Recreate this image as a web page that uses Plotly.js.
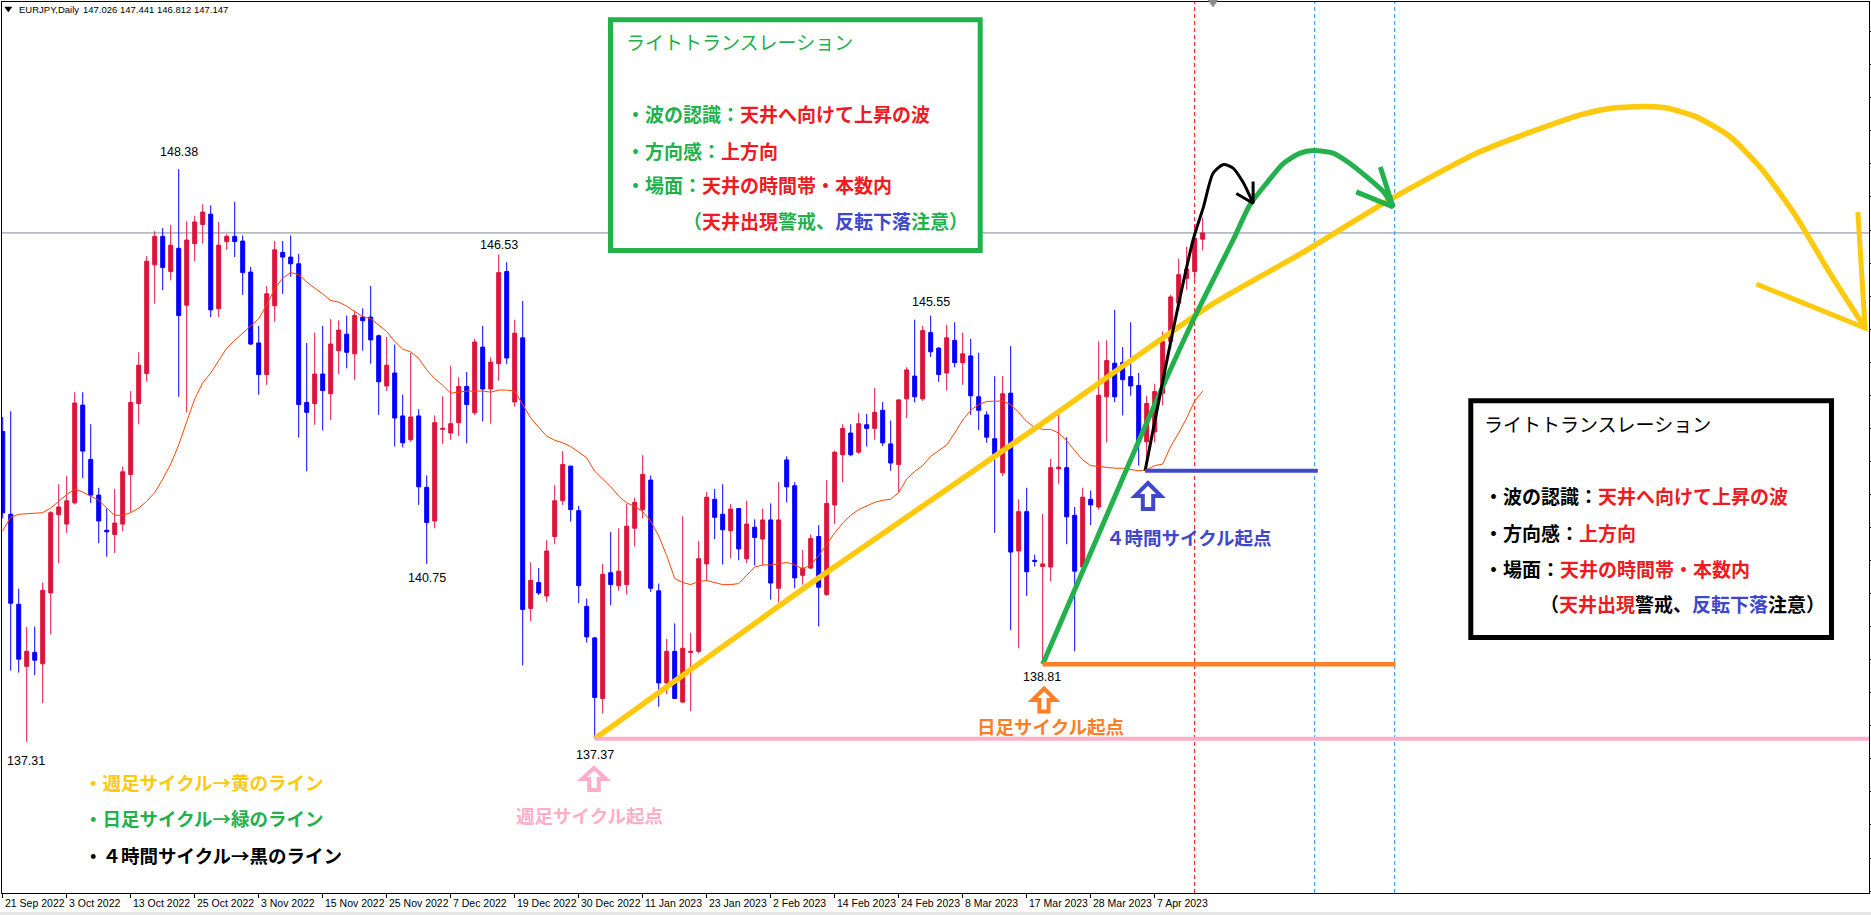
<!DOCTYPE html>
<html><head><meta charset="utf-8">
<script src="https://cdn.plot.ly/plotly-3.0.1.min.js"></script>
<style>html,body{margin:0;padding:0;background:#fff;overflow:hidden}#chart{width:1871px;height:915px}</style>
</head><body><div id="chart"></div>
<script>
// ---------- DATA ----------
const tickBars = [0,8,16,24,32,40,48,56,64,72,80,88,96,104,112,120,128,136,144];
const tickDates = ['21 Sep 2022','3 Oct 2022','13 Oct 2022','25 Oct 2022','3 Nov 2022','15 Nov 2022','25 Nov 2022','7 Dec 2022','19 Dec 2022','30 Dec 2022','11 Jan 2023','23 Jan 2023','2 Feb 2023','14 Feb 2023','24 Feb 2023','8 Mar 2023','17 Mar 2023','28 Mar 2023','7 Apr 2023'];

const openP = [143.31,141.71,139.97,138.77,139.04,138.82,140.19,141.70,141.52,141.93,
143.82,142.77,142.08,141.40,141.32,141.52,142.48,143.85,144.43,146.53,
147.08,146.40,146.85,145.75,146.94,147.31,147.51,145.68,146.98,147.08,
146.99,146.39,145.02,144.41,145.74,146.77,146.68,146.55,143.87,143.85,
144.42,144.04,144.87,145.19,144.81,145.52,145.52,145.16,144.19,144.44,
143.61,143.15,143.61,142.23,141.58,143.35,143.28,143.48,144.18,143.67,
144.94,144.13,144.62,146.40,143.88,145.12,139.89,140.39,140.13,141.28,
141.97,142.64,141.78,139.93,139.32,138.15,140.58,140.33,140.35,141.44,
141.80,142.37,140.23,138.45,139.06,138.08,139.04,139.06,140.75,142.00,
141.71,141.39,141.82,140.85,141.46,141.23,141.60,140.28,142.76,142.26,
140.53,140.67,141.28,140.16,141.89,142.86,143.28,142.91,143.44,143.37,
143.72,143.07,142.67,143.94,144.38,143.94,145.22,144.92,144.44,145.07,
144.64,144.77,143.98,143.63,143.17,142.51,144.05,141.00,141.76,140.82,
140.70,140.69,142.59,142.61,141.69,140.69,142.00,141.85,143.98,144.63,
144.64,144.37,144.20,143.11,143.30,144.05,145.05,145.79,146.27,146.40,
147.026];
const highP = [143.59,143.70,140.27,139.53,139.54,140.39,141.77,142.29,142.45,144.07,
144.07,143.45,142.22,141.82,142.20,142.63,144.09,144.84,146.70,147.18,
147.24,147.30,148.38,147.37,147.48,147.70,147.68,147.36,147.12,147.75,
147.10,146.49,145.35,146.12,146.99,146.99,147.10,146.74,145.02,145.22,
145.35,145.48,145.46,145.55,145.64,145.69,146.12,145.18,145.14,144.99,
144.02,144.83,143.74,142.46,143.62,143.99,144.58,144.36,144.46,145.10,
145.35,144.74,146.73,146.58,145.47,145.83,140.78,140.67,141.21,142.27,
142.93,142.65,141.87,140.08,139.34,140.75,141.37,141.44,141.91,142.03,
142.85,142.46,140.37,139.30,139.60,141.67,139.42,141.19,142.14,142.20,
142.29,141.91,141.83,141.97,141.61,141.82,141.92,142.33,142.83,142.33,
141.02,141.32,141.50,142.37,142.94,143.45,143.45,143.67,143.65,144.15,
143.88,143.52,143.93,144.55,145.47,145.35,145.55,144.94,145.37,145.42,
145.22,145.10,144.83,143.70,144.38,144.38,144.96,142.00,142.22,140.93,
141.72,142.78,143.63,143.20,141.85,142.22,142.17,145.05,145.07,145.66,
144.94,145.42,144.44,144.00,144.23,145.24,145.95,146.65,146.88,147.32,
147.441];
const lowP = [141.63,138.69,138.65,137.31,138.60,138.06,139.39,140.76,141.35,141.90,
142.41,141.93,141.15,140.89,140.96,141.38,141.75,143.45,144.27,145.78,
146.04,146.23,143.98,143.68,146.60,146.94,145.52,145.52,146.82,146.68,
145.95,144.98,144.02,144.21,145.43,145.97,146.30,143.19,142.54,143.44,
143.33,143.53,144.42,144.53,144.31,144.87,144.62,143.63,144.09,143.02,
143.00,143.11,141.89,140.75,141.44,143.07,143.15,143.22,143.08,143.63,
143.50,143.46,144.29,144.61,143.79,138.79,139.64,140.15,140.02,141.13,
141.89,141.57,139.99,139.23,137.37,137.86,139.95,140.23,140.16,141.09,
141.63,140.21,137.99,138.23,138.14,138.06,137.90,139.02,140.43,141.23,
140.74,140.86,140.82,140.76,140.72,140.72,140.06,140.01,141.94,140.28,
140.35,140.65,139.54,140.13,141.52,142.33,142.83,142.88,143.02,143.15,
143.03,142.55,142.14,143.57,143.87,143.90,144.75,144.27,144.10,144.55,
144.21,143.63,143.34,143.09,141.35,142.45,139.47,139.12,140.13,140.70,
138.81,140.41,142.30,141.13,139.06,140.60,141.50,141.80,143.10,143.88,
143.62,144.00,142.65,142.55,143.10,143.81,144.90,145.64,146.05,146.24,
146.812];
const closeP = [141.74,139.99,138.91,139.06,138.89,140.24,141.74,141.85,141.97,143.86,
142.93,142.08,141.58,141.37,141.54,142.53,143.87,144.59,146.60,147.08,
146.48,146.91,145.55,147.01,147.36,147.55,145.66,146.91,147.08,146.98,
146.38,145.00,144.41,145.97,146.82,146.68,146.55,143.83,143.68,144.42,
144.10,145.00,145.27,144.84,145.55,145.45,145.08,144.27,144.59,143.57,
143.09,143.59,142.24,141.55,143.48,143.37,143.46,144.18,143.83,145.04,
144.13,144.65,146.38,144.73,145.21,139.87,140.43,140.19,141.00,141.97,
142.67,141.80,140.33,139.34,138.17,140.55,140.35,140.61,141.48,141.94,
142.48,140.28,138.45,139.06,138.15,139.12,139.06,140.85,142.04,141.65,
141.41,141.81,141.04,141.52,141.26,141.60,140.38,141.60,142.24,140.48,
140.67,141.24,140.30,141.92,142.91,143.37,142.86,143.46,143.37,143.68,
143.09,142.70,143.92,144.50,143.98,145.26,144.85,144.41,145.12,144.64,
144.81,144.00,143.72,143.20,142.87,144.04,140.98,141.76,140.60,140.80,
140.75,142.61,142.62,141.66,140.61,142.04,141.89,144.01,144.68,143.98,
144.31,144.19,143.11,143.85,144.08,145.05,145.91,146.34,146.45,147.04,
147.147];
const maLine = [141.39,141.65,141.71,141.72,141.73,141.74,141.83,141.96,142.09,142.19,
142.14,142.06,141.98,141.83,141.69,141.69,141.74,141.83,141.96,142.13,
142.39,142.68,143.05,143.50,143.94,144.25,144.44,144.68,144.92,145.07,
145.21,145.36,145.49,145.75,146.07,146.27,146.38,146.34,146.20,146.08,
145.97,145.84,145.81,145.73,145.63,145.53,145.49,145.36,145.24,145.05,
144.90,144.85,144.72,144.50,144.33,144.20,144.05,144.07,144.09,144.09,
144.09,144.07,144.11,144.11,144.09,143.83,143.57,143.39,143.22,143.14,
143.09,143.02,142.91,142.80,142.54,142.39,142.24,142.06,141.93,141.86,
141.76,141.58,141.29,140.91,140.47,140.39,140.35,140.41,140.43,140.39,
140.35,140.35,140.37,140.53,140.69,140.73,140.73,140.75,140.78,140.73,
140.65,140.73,140.91,141.13,141.35,141.54,141.69,141.80,141.87,141.94,
141.98,142.00,142.13,142.39,142.54,142.65,142.83,142.94,143.05,143.28,
143.53,143.72,143.83,143.89,143.90,143.90,143.83,143.68,143.50,143.39,
143.35,143.35,143.28,143.13,142.94,142.76,142.65,142.63,142.61,142.60,
142.60,142.57,142.55,142.57,142.65,142.68,143.02,143.28,143.57,143.90,
144.09];

// drawn cycle lines (bar index, price)
const weeklyX = [74,100.9,128.4,150.9,162.2,173.4,184.7,197.2,201.3,205.5,208.0,211.7,215.9,220.0,224.2,228.4,232.8];
const weeklyY = [137.37,140.36,143.30,145.74,146.74,147.79,148.72,149.43,149.56,149.59,149.56,149.39,149.01,148.36,147.46,146.37,145.31];
const weeklyArrowX = [219.2,232.8,231.9];
const weeklyArrowY = [146.16,145.31,147.55];
const dailyX = [130,142.6,148.8,153.8,155.9,158.0,160.1,162.2,163.8,166.3,168.4,170.5,172.6,173.8];
const dailyY = [138.81,143.34,145.46,147.01,147.69,148.11,148.49,148.69,148.74,148.69,148.49,148.23,147.94,147.65];
const dailyArrowX = [169.2,173.8,172.2];
const dailyArrowY = [147.94,147.65,148.42];
const h4X = [142.8,143.8,146.3,148.8,150.1,151.3,152.6,153.8,155.1,156.3];
const h4Y = [142.55,143.34,145.27,147.01,147.65,148.30,148.47,148.40,148.11,147.72];
const h4ArrowX = [154.2,156.3,156.3];
const h4ArrowY = [147.91,147.72,148.14];

const levelPrice = [137.37,138.81,142.55];
const levelFrom = [74,130,142.8];
const levelTo = [233.3,174.1,164.4];
const levelColor = ['#ffaec9','#ff7f27','#3f48cc'];
const markerBars = [149,164,174];
const markerColor = ['#ff0000','#1e90ff','#1e90ff'];
const currentPrice = 147.147;
const priceLabels = ['148.38','146.53','140.75','145.55','137.31','137.37','138.81'];

// ---------- LAYOUT HELPERS ----------
const W=1871,H=915,ML=2,MR=2,MT=2,MB=22;
const PW=W-ML-MR, PH=H-MT-MB;
const px = x => (x-ML)/PW;
const py = y => (H-MB-y)/PH;
const JP = 'Noto Sans CJK JP';
const bars = openP.map((_, i) => i);

const traces = [
 {type:'candlestick', x:bars, open:openP, high:highP, low:lowP, close:closeP,
  increasing:{line:{color:'#dc143c',width:1},fillcolor:'#dc143c'},
  decreasing:{line:{color:'#0000ff',width:1},fillcolor:'#0000ff'},
  whiskerwidth:0, hoverinfo:'skip', showlegend:false},
 {type:'scatter', mode:'lines', x:bars, y:maLine, line:{color:'#ff4500',width:1}, hoverinfo:'skip', showlegend:false},
 {type:'scatter', mode:'lines', x:weeklyX, y:weeklyY, line:{color:'#ffc90e',width:5.5,shape:'spline',smoothing:0.6}, hoverinfo:'skip', showlegend:false},
 {type:'scatter', mode:'lines', x:weeklyArrowX, y:weeklyArrowY, line:{color:'#ffc90e',width:5}, hoverinfo:'skip', showlegend:false},
 {type:'scatter', mode:'lines', x:dailyX, y:dailyY, line:{color:'#22b14c',width:5,shape:'spline',smoothing:0.7}, hoverinfo:'skip', showlegend:false},
 {type:'scatter', mode:'lines', x:dailyArrowX, y:dailyArrowY, line:{color:'#22b14c',width:5}, hoverinfo:'skip', showlegend:false},
 {type:'scatter', mode:'lines', x:h4X, y:h4Y, line:{color:'#000000',width:3,shape:'spline',smoothing:0.7}, hoverinfo:'skip', showlegend:false},
 {type:'scatter', mode:'lines', x:h4ArrowX, y:h4ArrowY, line:{color:'#000000',width:3}, hoverinfo:'skip', showlegend:false}
];

function upArrow(cx, cy, w, h, color){
  const hw=w/2, hh=h/2, sw=w*0.2;
  return {type:'path', xref:'paper', yref:'paper', xsizemode:'pixel', ysizemode:'pixel',
    xanchor:px(cx), yanchor:py(cy),
    path:`M0,${hh} L${hw},0 L${sw},0 L${sw},${-hh} L${-sw},${-hh} L${-sw},0 L${-hw},0 Z`,
    line:{color:color,width:4}, fillcolor:'#ffffff', layer:'above'};
}

const shapes = [
 {type:'line', xref:'paper', yref:'y', x0:0, x1:1, y0:currentPrice, y1:currentPrice, line:{color:'#7f8a94',width:1}, layer:'below'},
 ...markerBars.map((b,k)=>({type:'line', xref:'x', yref:'paper', x0:b, x1:b, y0:0, y1:1, line:{color:markerColor[k],width:1,dash:'4px,3px'}, layer:'below'})),
 ...levelPrice.map((p,k)=>({type:'line', xref:'x', yref:'y', x0:levelFrom[k], x1:levelTo[k], y0:p, y1:p, line:{color:levelColor[k],width:k===1?4.5:4}, layer:'above'})),
 {type:'rect', xref:'paper', yref:'paper', x0:px(610.5), x1:px(980.2), y0:py(250.5), y1:py(19.8), line:{color:'#22b14c',width:5}, fillcolor:'#ffffff', layer:'above'},
 {type:'rect', xref:'paper', yref:'paper', x0:px(1470.8), x1:px(1831.5), y0:py(637.5), y1:py(400.8), line:{color:'#000000',width:5}, fillcolor:'#ffffff', layer:'above'},
 upArrow(594, 779, 24, 22, '#ffaec9'),
 upArrow(1044, 700, 23, 23, '#ff7f27'),
 upArrow(1148, 496, 26, 26, '#3f48cc'),
 {type:'path', xref:'paper', yref:'paper', xsizemode:'pixel', ysizemode:'pixel', xanchor:px(8.3), yanchor:py(9.5),
  path:'M-3.5,2.5 L3.5,2.5 L0,-2.5 Z', line:{color:'#000',width:0.5}, fillcolor:'#000', layer:'above'},
 {type:'path', xref:'paper', yref:'paper', xsizemode:'pixel', ysizemode:'pixel', xanchor:px(1213), yanchor:py(2),
  path:'M-5,2 L5,2 L0,-5 Z', line:{color:'#8c8c8c',width:0.5}, fillcolor:'#8c8c8c', layer:'above'},
 {type:'rect', xref:'paper', yref:'paper', x0:px(0), x1:px(W), y0:py(915), y1:py(912), line:{width:0}, fillcolor:'#e6e6e6', layer:'above'}
];

function ann(x, y, text, size, color, xa, family){
  return {xref:'paper', yref:'paper', x:px(x), y:py(y), text:text, showarrow:false,
    xanchor:xa||'left', yanchor:'middle', borderpad:0,
    font:{family:family||JP, size:size, color:color}};
}
const G='#22b14c', Rd='#ed1c24', Bl='#3f48cc', K='#000000';
const sp = (c,t)=>`<span style="color:${c}">${t}</span>`;
const NUM = 'Liberation Sans';

const annotations = [
 ann(17.5, 9.5, 'EURJPY,Daily', 9.5, K, 'left', NUM),
 ann(82, 9.5, '147.026 147.441 146.812 147.147', 9.5, K, 'left', NUM),
 // green box
 ann(625, 41.7, 'ライトトランスレーション', 19, G),
 ann(625, 113.3, '<b>'+sp(G,'・波の認識：')+sp(Rd,'天井へ向けて上昇の波')+'</b>', 19, G),
 ann(625, 150, '<b>'+sp(G,'・方向感：')+sp(Rd,'上方向')+'</b>', 19, G),
 ann(625, 185, '<b>'+sp(G,'・場面：')+sp(Rd,'天井の時間帯・本数内')+'</b>', 19, G),
 ann(682, 220, '<b>'+sp(G,'（')+sp(Rd,'天井出現')+sp(G,'警戒、')+sp(Bl,'反転下落')+sp(G,'注意）')+'</b>', 19, G),
 // black box
 ann(1483, 423.3, 'ライトトランスレーション', 19, K),
 ann(1483, 496, '<b>'+sp(K,'・波の認識：')+sp(Rd,'天井へ向けて上昇の波')+'</b>', 19, K),
 ann(1483, 532.7, '<b>'+sp(K,'・方向感：')+sp(Rd,'上方向')+'</b>', 19, K),
 ann(1483, 568.3, '<b>'+sp(K,'・場面：')+sp(Rd,'天井の時間帯・本数内')+'</b>', 19, K),
 ann(1539, 603.3, '<b>'+sp(K,'（')+sp(Rd,'天井出現')+sp(K,'警戒、')+sp(Bl,'反転下落')+sp(K,'注意）')+'</b>', 19, K),
 // legend lines
 ann(83, 782, '<b>・週足サイクル→黄のライン</b>', 18.5, '#ffc90e'),
 ann(83, 818, '<b>・日足サイクル→緑のライン</b>', 18.5, G),
 ann(83, 855, '<b>・４時間サイクル→黒のライン</b>', 18.5, K),
 // cycle origins
 ann(589, 815, '<b>週足サイクル起点</b>', 18.5, '#ffaec9', 'center'),
 ann(1050, 726, '<b>日足サイクル起点</b>', 18.5, '#ff7f27', 'center'),
 ann(1189, 537, '<b>４時間サイクル起点</b>', 18.5, Bl, 'center'),
 // price labels
 ann(178.7, 152.5, priceLabels[0], 12.5, K, 'center', NUM),
 ann(498.7, 245, priceLabels[1], 12.5, K, 'center', NUM),
 ann(426.7, 578, priceLabels[2], 12.5, K, 'center', NUM),
 ann(930.7, 302.3, priceLabels[3], 12.5, K, 'center', NUM),
 ann(26, 760.5, priceLabels[4], 12.5, K, 'center', NUM),
 ann(595, 755, priceLabels[5], 12.5, K, 'center', NUM),
 ann(1042, 677.5, priceLabels[6], 12.5, K, 'center', NUM),
 // date tick labels, left-aligned to the right of each tick (MT4 style)
 ...tickBars.map((b,k)=>({xref:'x', yref:'paper', x:b, y:py(903), text:tickDates[k], showarrow:false,
   xanchor:'left', yanchor:'middle', xshift:1, borderpad:0,
   font:{family:'Liberation Sans Narrow, Liberation Sans, Arial', size:10.5, color:K}}))
];

const layout = {
  width:W, height:H, margin:{l:ML,r:MR,t:MT,b:MB,pad:0},
  paper_bgcolor:'#ffffff', plot_bgcolor:'#ffffff', showlegend:false,
  boxgap:0.5, boxgroupgap:0, hovermode:false, dragmode:false,
  xaxis:{range:[-0.09,233.29], tickmode:'array', tickvals:tickBars, ticktext:tickDates, showticklabels:false,
    ticks:'outside', ticklen:4, tickcolor:'#000', tickwidth:1, showline:true, linecolor:'#000', linewidth:1, mirror:true,
    showgrid:false, zeroline:false, rangeslider:{visible:false}, fixedrange:true},
  yaxis:{range:[134.39,151.61], side:'right', tickmode:'linear', tick0:147.203, dtick:0.6388,
    ticks:'outside', ticklen:2, tickcolor:'#000', showticklabels:false, showline:true, linecolor:'#000', linewidth:1, mirror:true,
    showgrid:false, zeroline:false, fixedrange:true},
  shapes:shapes, annotations:annotations
};

Plotly.newPlot('chart', traces, layout, {staticPlot:true, displayModeBar:false});
</script></body></html>
